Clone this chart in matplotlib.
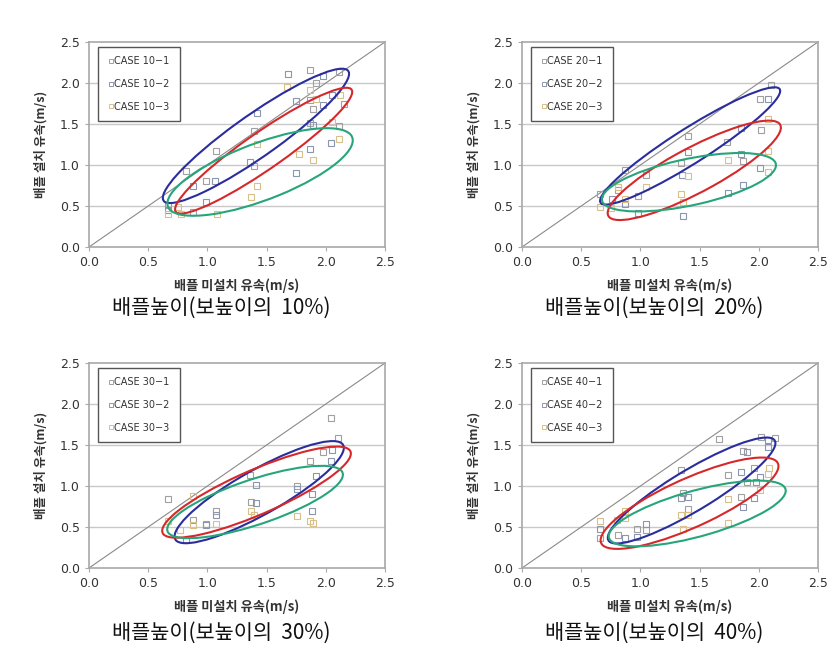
import numpy as np
import matplotlib
matplotlib.use('Agg')
import matplotlib.pyplot as plt
from matplotlib.patches import Ellipse
from matplotlib.lines import Line2D

KR = ['Noto Sans CJK KR', 'DejaVu Sans']

# baffle 10%
c10_1x = [1.87, 2.11, 1.92, 1.87, 1.89, 2.15, 1.87, 2.11, 1.39, 1.07, 1.39, 0.82, 0.99, 0.67, 0.88]
c10_1y = [2.16, 2.13, 2.00, 1.79, 1.68, 1.74, 1.51, 1.47, 1.42, 1.17, 0.99, 0.93, 0.81, 0.51, 0.43]
c10_2x = [1.68, 1.98, 2.05, 1.75, 1.98, 1.42, 1.89, 2.04, 1.87, 1.75, 1.36, 1.06, 0.88, 0.99, 0.67]
c10_2y = [2.11, 2.08, 1.85, 1.78, 1.73, 1.63, 1.49, 1.27, 1.20, 0.90, 1.04, 0.80, 0.74, 0.55, 0.45]
c10_3x = [1.67, 1.87, 2.12, 1.92, 2.05, 2.11, 1.42, 1.77, 1.89, 1.42, 1.37, 0.67, 0.78, 1.08, 0.75]
c10_3y = [1.95, 1.91, 1.85, 1.81, 1.53, 1.32, 1.25, 1.13, 1.06, 0.74, 0.61, 0.40, 0.40, 0.40, 0.49]

# baffle 20%
c20_1x = [2.10, 2.01, 2.02, 1.40, 1.73, 1.87, 1.34, 1.05, 0.87, 0.81, 0.98, 0.66]
c20_1y = [1.97, 1.80, 1.43, 1.35, 1.28, 1.05, 1.02, 0.88, 0.94, 0.69, 0.62, 0.65]
c20_2x = [2.08, 1.85, 1.40, 1.85, 2.01, 1.35, 1.87, 1.74, 0.87, 0.76, 0.98, 1.36]
c20_2y = [1.80, 1.45, 1.16, 1.13, 0.96, 0.88, 0.75, 0.66, 0.53, 0.59, 0.41, 0.38]
c20_3x = [2.08, 2.08, 1.74, 2.08, 1.40, 1.05, 0.81, 1.34, 0.87, 1.36, 0.66, 0.75]
c20_3y = [1.56, 1.17, 1.06, 0.91, 0.86, 0.73, 0.73, 0.65, 0.59, 0.55, 0.49, 0.47]

# baffle 30%
c30_1x = [2.04, 2.10, 1.98, 1.87, 1.36, 1.76, 0.67, 1.37, 1.07, 0.88, 0.99]
c30_1y = [1.83, 1.58, 1.41, 1.30, 1.14, 1.00, 0.84, 0.81, 0.69, 0.59, 0.54]
c30_2x = [2.05, 2.04, 1.92, 1.41, 1.76, 1.88, 1.41, 1.88, 1.07, 0.99, 0.82]
c30_2y = [1.44, 1.30, 1.12, 1.01, 0.96, 0.90, 0.79, 0.70, 0.65, 0.52, 0.34]
c30_3x = [0.88, 1.37, 1.39, 1.76, 1.87, 1.89, 1.07, 0.88, 0.77, 0.67]
c30_3y = [0.88, 0.70, 0.65, 0.63, 0.57, 0.55, 0.54, 0.52, 0.46, 0.57]

# baffle 40%
c40_1x = [2.02, 2.14, 1.66, 1.87, 1.34, 1.74, 1.96, 1.90, 1.36, 1.85, 1.40, 0.66, 0.81, 0.97, 1.05]
c40_1y = [1.60, 1.58, 1.57, 1.43, 1.19, 1.13, 1.22, 1.05, 0.91, 0.86, 0.72, 0.36, 0.40, 0.48, 0.46]
c40_2x = [2.08, 2.08, 1.90, 1.85, 2.01, 1.98, 1.40, 1.34, 1.96, 1.87, 0.66, 0.87, 0.97, 1.05]
c40_2y = [1.56, 1.47, 1.41, 1.17, 1.11, 1.05, 0.86, 0.85, 0.85, 0.74, 0.47, 0.37, 0.38, 0.54]
c40_3x = [2.09, 2.08, 2.01, 1.74, 1.34, 1.40, 0.87, 0.87, 0.80, 0.66, 1.36, 1.74]
c40_3y = [1.22, 1.15, 0.95, 0.84, 0.65, 0.65, 0.70, 0.61, 0.59, 0.57, 0.48, 0.55]

# hand drawn ellipses: (lower tip, upper tip, vertical chord through centre)
ell10 = [((0.64, 0.55), (2.18, 2.16), 0.63), ((0.74, 0.42), (2.21, 1.93), 0.55), ((0.68, 0.46), (2.21, 1.37), 0.74)]
ell20 = [((0.67, 0.53), (2.17, 1.935), 0.50), ((0.74, 0.36), (2.17, 1.51), 0.62), ((0.68, 0.55), (2.14, 1.03), 0.58)]
ell30 = [((0.74, 0.33), (2.135, 1.52), 0.62), ((0.63, 0.41), (2.20, 1.44), 0.59), ((0.67, 0.43), (2.135, 1.18), 0.58)]
ell40 = [((0.74, 0.32), (2.125, 1.57), 0.58), ((0.68, 0.28), (2.15, 1.30), 0.65), ((0.74, 0.35), (2.22, 0.98), 0.58)]

levels = ['10', '20', '30', '40']
ticks = [0.0, 0.5, 1.0, 1.5, 2.0, 2.5]
case_colors = ['#a0a0a0', '#8a95b0', '#d8c088']
ell_colors = ['#2a2d9c', '#d6282b', '#27a57a']

panels = [
    ([(c10_1x, c10_1y), (c10_2x, c10_2y), (c10_3x, c10_3y)], ell10),
    ([(c20_1x, c20_1y), (c20_2x, c20_2y), (c20_3x, c20_3y)], ell20),
    ([(c30_1x, c30_1y), (c30_2x, c30_2y), (c30_3x, c30_3y)], ell30),
    ([(c40_1x, c40_1y), (c40_2x, c40_2y), (c40_3x, c40_3y)], ell40),
]

W, H = 839, 652
fig = plt.figure(figsize=(W / 100, H / 100), dpi=100)

# axes boxes in pixels: left, top
boxes = [(89, 42), (522, 42), (89, 363), (522, 363)]
aw, ah = 296, 205
captions_xy = [(221, 308), (654, 308), (221, 633), (654, 633)]


def make_ellipse(tip1, tip2, chord, color):
    (x1, y1), (x2, y2) = tip1, tip2
    cx, cy = (x1 + x2) / 2, (y1 + y2) / 2
    a = np.hypot(x2 - x1, y2 - y1) / 2
    th = np.arctan2(y2 - y1, x2 - x1)
    hy = chord / 2
    b = np.cos(th) / np.sqrt(1 / hy ** 2 - np.sin(th) ** 2 / a ** 2)
    return Ellipse((cx, cy), 2 * a, 2 * b, angle=np.degrees(th),
                   fill=False, ec=color, lw=1.5, zorder=4)


for i, (cases, ells) in enumerate(panels):
    lx, ty = boxes[i]
    ax = fig.add_axes([lx / W, 1 - (ty + ah) / H, aw / W, ah / H])
    ax.set_xlim(0, 2.5)
    ax.set_ylim(0, 2.5)
    for y in ticks[1:-1]:
        ax.axhline(y, color='#c8c8c8', lw=1.0, zorder=0)
    ax.plot([0, 2.5], [0, 2.5], color='#8a8a8a', lw=0.8, zorder=1)

    handles = []
    for k, (xs, ys) in enumerate(cases):
        ax.plot(xs, ys, ls='none', marker='s', ms=5, mfc='none',
                mec=case_colors[k], mew=0.8, zorder=3)
        handles.append(Line2D([], [], ls='none', marker='s', ms=3.5, mfc='none',
                              mec=case_colors[k], mew=0.7,
                              label='CASE %s\u2212%d' % (levels[i], k + 1)))
    for k, (t1, t2, ch) in enumerate(ells):
        ax.add_patch(make_ellipse(t1, t2, ch, ell_colors[k]))

    leg = ax.legend(handles=handles, loc='upper left', bbox_to_anchor=(0.03, 0.977),
                    frameon=True, fancybox=False, edgecolor='#555555', framealpha=1,
                    fontsize=7, borderpad=1.0, labelspacing=1.3, handlelength=0.6,
                    handletextpad=0.1, borderaxespad=0)
    leg.get_frame().set_linewidth(1.0)
    for t in leg.get_texts():
        t.set_color('#333333')

    ax.set_xticks(ticks)
    ax.set_yticks(ticks)
    ax.set_xticklabels(['%.1f' % t for t in ticks])
    ax.set_yticklabels(['%.1f' % t for t in ticks])
    ax.tick_params(labelsize=9, colors='#aaaaaa', labelcolor='#333333', length=3, width=0.8)
    for s in ax.spines.values():
        s.set_color('#a8a8a8')
        s.set_linewidth(1.2)

    ax.set_xlabel('배플 미설치 유속(m/s)', family=KR, fontsize=9.5, fontweight='bold', color='#333333')
    ax.xaxis.set_label_coords(0.5, -0.155)
    ax.set_ylabel('배플 설치 유속(m/s)', family=KR, fontsize=9, fontweight='bold', color='#333333')
    ax.yaxis.set_label_coords(-0.14, 0.5)

    cx, cy = captions_xy[i]
    fig.text(cx / W, 1 - cy / H, '배플높이(보높이의  %s%%)' % levels[i], family=KR,
             fontsize=15, ha='center', va='center', color='#111111')

fig.savefig('out.png', dpi=100)
